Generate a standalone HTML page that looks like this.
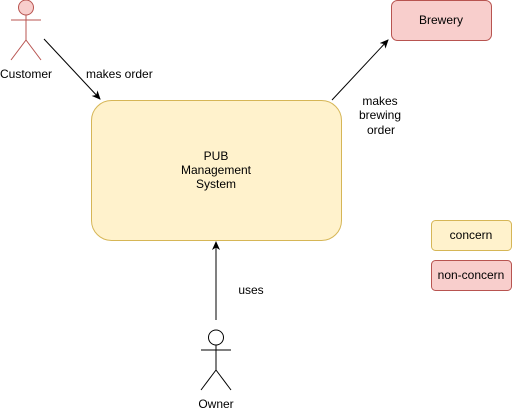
<!DOCTYPE html>
<html><head><style>body{margin:0;background:#fff}</style></head><body>
<svg width="512" height="412" xmlns="http://www.w3.org/2000/svg" font-family="Liberation Sans, sans-serif" font-size="12">
<defs><marker id="a" markerWidth="10" markerHeight="10" refX="8" refY="5" orient="auto" markerUnits="userSpaceOnUse"><path d="M0,1 L9,5 L0,9 L2.5,5 Z" fill="#000"/></marker></defs>
<g stroke="#b85450" fill="none">
<circle cx="26" cy="7.5" r="7.5" fill="#f8cecc"/>
<line x1="11" y1="20" x2="41" y2="20"/><line x1="26" y1="15" x2="26" y2="40"/>
<line x1="26" y1="40" x2="11" y2="60"/><line x1="26" y1="40" x2="41" y2="60"/>
</g>
<text x="26" y="78" text-anchor="middle">Customer</text>
<g stroke="#000" fill="none">
<circle cx="216" cy="337.5" r="7.5" fill="#fff"/>
<line x1="201" y1="350" x2="231" y2="350"/><line x1="216" y1="345" x2="216" y2="370"/>
<line x1="216" y1="370" x2="201" y2="390"/><line x1="216" y1="370" x2="231" y2="390"/>
</g>
<text x="216" y="408" text-anchor="middle">Owner</text>
<rect x="91.5" y="100.5" width="250" height="140" rx="20" fill="#fff2cc" stroke="#d6b656"/>
<text x="216" y="160" text-anchor="middle">PUB</text>
<text x="216" y="174" text-anchor="middle">Management</text>
<text x="216" y="188" text-anchor="middle">System</text>
<rect x="391.5" y="0.5" width="100" height="40" rx="6" fill="#f8cecc" stroke="#b85450"/>
<text x="441" y="24" text-anchor="middle">Brewery</text>
<rect x="431.5" y="220.5" width="80" height="30" rx="4" fill="#fff2cc" stroke="#d6b656"/>
<text x="471" y="239" text-anchor="middle">concern</text>
<rect x="431.5" y="260.5" width="80" height="30" rx="4" fill="#f8cecc" stroke="#b85450"/>
<text x="471" y="279" text-anchor="middle">non-concern</text>
<g stroke="#000" fill="none" marker-end="url(#a)">
<line x1="44" y1="39" x2="100" y2="99"/>
<line x1="332" y1="100" x2="388" y2="40"/>
<line x1="216" y1="320" x2="216" y2="242"/>
</g>
<text x="86" y="78">makes order</text>
<text x="380" y="105" text-anchor="middle">makes</text>
<text x="380" y="119" text-anchor="middle">brewing</text>
<text x="381" y="134" text-anchor="middle">order</text>
<text x="251" y="294" text-anchor="middle">uses</text>
</svg>
</body></html>
